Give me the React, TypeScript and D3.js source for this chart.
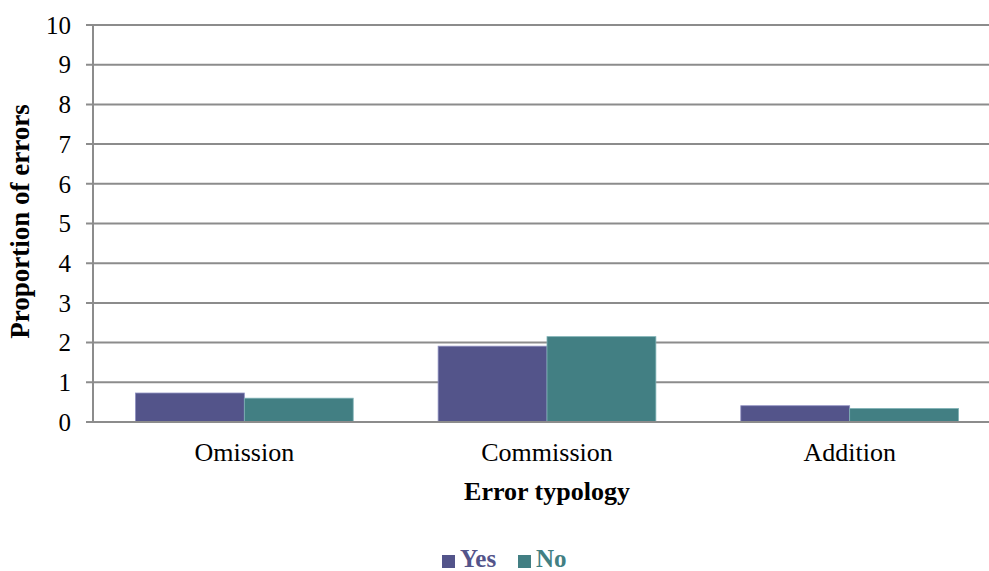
import React from "react";
import * as d3 from "d3";

const categories = ["Omission", "Commission", "Addition"];
const seriesNames = ["Yes", "No"];
const yesValues = [0.73, 1.91, 0.41];
const noValues = [0.6, 2.15, 0.34];
const yTicks = [0, 1, 2, 3, 4, 5, 6, 7, 8, 9, 10];
const colors = ["#53548A", "#427F83"];

export default function App() {
  const W = 989, H = 571;
  const left = 93, top = 25, bottom = 422;
  const y = d3.scaleLinear().domain([0, 10]).range([bottom, top]);
  const x = d3.scaleBand().domain(categories).range([left, 1001]).paddingInner(0).paddingOuter(0);
  const inner = d3.scaleBand().domain(seriesNames).range([0, x.bandwidth()]).paddingInner(0).paddingOuter(0.39);
  const series = [yesValues, noValues];
  const font = "'Liberation Serif', 'Times New Roman', serif";
  return (
    <svg width={W} height={H} style={{ position: "absolute", left: 0, top: 0 }} fontFamily={font}>
      <rect width={W} height={H} fill="#fff" />
      {yTicks.map((t) => (
        <g key={t}>
          <line x1={86} x2={W} y1={y(t)} y2={y(t)} stroke="#8c8c8c" strokeWidth={2} />
          <text x={71} y={y(t)} dy="0.35em" textAnchor="end" fontSize={25}>{t}</text>
        </g>
      ))}
      <line x1={left} x2={left} y1={top} y2={bottom} stroke="#8c8c8c" strokeWidth={2} />
      {categories.map((c, i) =>
        series.map((s, j) => (
          <rect
            key={c + j}
            x={(x(c) as number) + (inner(seriesNames[j]) as number)}
            y={y(s[i])}
            width={inner.bandwidth()}
            height={y(0) - y(s[i])}
            fill={colors[j]}
            stroke={j === 0 ? "#8e8fc0" : "#7fb2b5"}
            strokeWidth={0.8}
          />
        ))
      )}
      <line x1={86} x2={W} y1={y(0)} y2={y(0)} stroke="#8c8c8c" strokeWidth={2} />
      {categories.map((c) => (
        <text key={c} x={(x(c) as number) + x.bandwidth() / 2} y={461} textAnchor="middle" fontSize={26}>{c}</text>
      ))}
      <text x={547} y={500} textAnchor="middle" fontSize={26} fontWeight="bold">Error typology</text>
      <text transform={`translate(29,${y(5.05)}) rotate(-90)`} textAnchor="middle" fontSize={27} fontWeight="bold">Proportion of errors</text>
      <g>
        <rect x={442} y={555} width={13} height={13} fill={colors[0]} />
        <text x={460} y={567} fontSize={25} fontWeight="bold" fill={colors[0]}>Yes</text>
        <rect x={518} y={555} width={13} height={13} fill={colors[1]} />
        <text x={536} y={567} fontSize={25} fontWeight="bold" fill={colors[1]}>No</text>
      </g>
    </svg>
  );
}
